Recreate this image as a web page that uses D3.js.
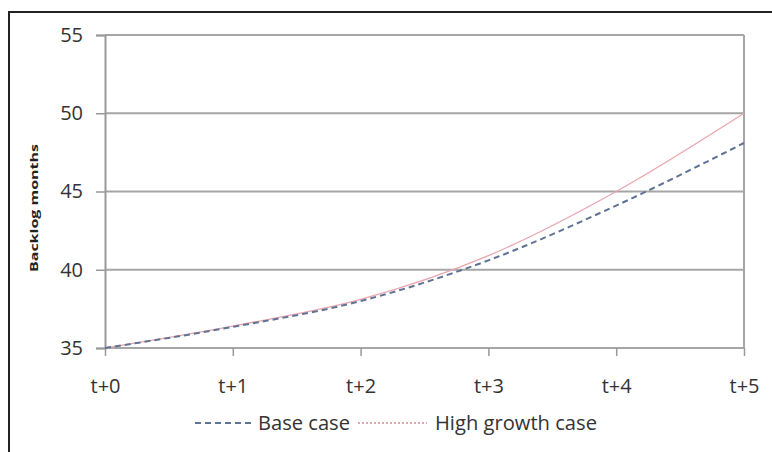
<!DOCTYPE html>
<html><head><meta charset="utf-8">
<script src="https://cdn.jsdelivr.net/npm/d3@7"></script>
<style>body{margin:0;background:#fff}svg{display:block}</style>
</head><body><svg id="c" width="772" height="452"></svg>
<script>
const categories = ["t+0","t+1","t+2","t+3","t+4","t+5"];
const baseCase = [35, 36.35, 38.0, 40.6, 44.1, 48.1];
const highGrowth = [35, 36.4, 38.1, 40.9, 45.0, 50.0];
const yTicks = [35, 40, 45, 50, 55];
const seriesNames = ["Base case", "High growth case"];

const svg = d3.select("#c");
const font = "'Open Sans', 'DejaVu Sans', sans-serif";
const L = 105, R = 744, T = 35, B = 348;

// outer frame (only left/top visible)
svg.append("path").attr("d","M9,452V12H772").attr("fill","none").attr("stroke","#222").attr("stroke-width",2);

const x = d3.scalePoint().domain(categories).range([L, R]);
const y = d3.scaleLinear().domain([35, 55]).range([B, T]);

// gridlines
svg.append("g").selectAll("line").data(yTicks).join("line")
  .attr("x1", L).attr("x2", R).attr("y1", d=>y(d)).attr("y2", d=>y(d))
  .attr("stroke", "#a6a6a6").attr("stroke-width", 2);
// right border of plot
svg.append("line").attr("x1",R).attr("x2",R).attr("y1",T).attr("y2",B).attr("stroke","#a6a6a6").attr("stroke-width",2);

// y axis
const ya = svg.append("g").attr("transform",`translate(${L},0)`)
  .call(d3.axisLeft(y).tickValues(yTicks).tickSize(9).tickPadding(13));
ya.select(".domain").attr("stroke","#999").attr("stroke-width",2);
ya.selectAll(".tick line").attr("stroke","#999").attr("stroke-width",1.5);
ya.selectAll("text").attr("font-family",font).attr("font-size",20).attr("fill","#333");

// x axis
const xa = svg.append("g").attr("transform",`translate(0,${B})`)
  .call(d3.axisBottom(x).tickSize(8).tickPadding(23));
xa.select(".domain").remove();
xa.selectAll(".tick line").attr("stroke","#999").attr("stroke-width",1.5);
xa.selectAll("text").attr("font-family",font).attr("font-size",20).attr("fill","#333");

// y title
svg.append("text").attr("transform","translate(38,208) rotate(-90)")
  .attr("text-anchor","middle").attr("font-family",font).attr("font-weight","bold")
  .attr("font-size",11).attr("fill","#222")
  .attr("textLength",128).attr("lengthAdjust","spacingAndGlyphs").text("Backlog months");

const line = d3.line().x((d,i)=>x(categories[i])).y(d=>y(d)).curve(d3.curveMonotoneX);

svg.append("path").datum(highGrowth).attr("d", line).attr("fill","none")
  .attr("stroke","#e9a6ae").attr("stroke-width",1.3);
svg.append("path").datum(baseCase).attr("d", line).attr("fill","none")
  .attr("stroke","#5f7394").attr("stroke-width",2).attr("stroke-dasharray","6,4");

// legend
const lg = svg.append("g");
lg.append("line").attr("x1",195).attr("x2",251).attr("y1",423).attr("y2",423)
  .attr("stroke","#5f7394").attr("stroke-width",2).attr("stroke-dasharray","6,4");
lg.append("text").attr("x",258).attr("y",430).attr("font-family",font).attr("font-size",20).attr("fill","#333")
  .attr("textLength",92).attr("lengthAdjust","spacingAndGlyphs").text(seriesNames[0]);
lg.append("line").attr("x1",358).attr("x2",427).attr("y1",423).attr("y2",423)
  .attr("stroke","#d88a96").attr("stroke-width",1.3).attr("stroke-dasharray","2,2");
lg.append("text").attr("x",435).attr("y",430).attr("font-family",font).attr("font-size",20).attr("fill","#333")
  .attr("textLength",162).attr("lengthAdjust","spacingAndGlyphs").text(seriesNames[1]);
</script></body></html>
